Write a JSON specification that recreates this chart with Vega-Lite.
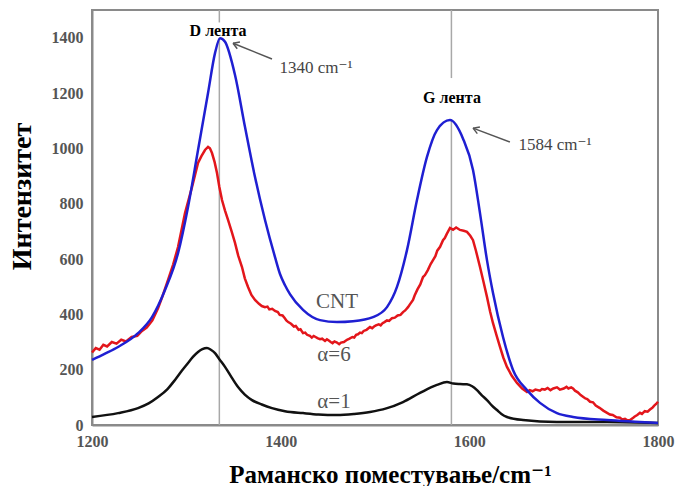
{
  "$schema": "https://vega.github.io/schema/vega-lite/v6.json",
  "width": 566,
  "height": 415,
  "autosize": "none",
  "padding": {"left": 92, "top": 10, "right": 20, "bottom": 61},
  "background": "white",
  "config": {
    "view": {"stroke": "#8a8a8a", "strokeWidth": 2},
    "font": "'Liberation Serif', 'DejaVu Serif', serif"
  },
  "datasets": {
    "cnt": [
      {"x": 1200, "y": 235}, {"x": 1213.8, "y": 258}, {"x": 1227.6, "y": 282}, {"x": 1248.8, "y": 332},
      {"x": 1263.6, "y": 390}, {"x": 1277.4, "y": 488}, {"x": 1291.2, "y": 621}, {"x": 1301.8, "y": 788},
      {"x": 1312.4, "y": 994}, {"x": 1323, "y": 1200}, {"x": 1330.4, "y": 1344}, {"x": 1335.7, "y": 1398},
      {"x": 1341, "y": 1385}, {"x": 1351.6, "y": 1265}, {"x": 1362.2, "y": 1077}, {"x": 1372.8, "y": 896},
      {"x": 1383.4, "y": 741}, {"x": 1394, "y": 607}, {"x": 1399.4, "y": 545}, {"x": 1404.6, "y": 505},
      {"x": 1410, "y": 472}, {"x": 1423.7, "y": 416}, {"x": 1441.7, "y": 379}, {"x": 1459.7, "y": 372},
      {"x": 1476.7, "y": 375}, {"x": 1497.9, "y": 390}, {"x": 1512.7, "y": 426}, {"x": 1523.3, "y": 499},
      {"x": 1533.9, "y": 632}, {"x": 1544.5, "y": 813}, {"x": 1555.1, "y": 969}, {"x": 1565.7, "y": 1066},
      {"x": 1579.5, "y": 1102}, {"x": 1593.3, "y": 1035}, {"x": 1603.9, "y": 922}, {"x": 1611.3, "y": 766},
      {"x": 1618.7, "y": 596}, {"x": 1625.1, "y": 477}, {"x": 1635.7, "y": 318}, {"x": 1646.3, "y": 199},
      {"x": 1661.1, "y": 126}, {"x": 1674.9, "y": 80}, {"x": 1692.9, "y": 43}, {"x": 1709.9, "y": 29},
      {"x": 1746, "y": 18}, {"x": 1780.9, "y": 11}, {"x": 1800, "y": 7}
    ],
    "a6": [
      {"x": 1200, "y": 262}, {"x": 1204, "y": 278}, {"x": 1208, "y": 272}, {"x": 1212, "y": 290},
      {"x": 1216, "y": 284}, {"x": 1221, "y": 300}, {"x": 1226, "y": 294}, {"x": 1231, "y": 308},
      {"x": 1236, "y": 302}, {"x": 1242, "y": 318}, {"x": 1248, "y": 322}, {"x": 1253, "y": 340},
      {"x": 1258, "y": 352}, {"x": 1264, "y": 378}, {"x": 1270, "y": 422}, {"x": 1275, "y": 468},
      {"x": 1280.6, "y": 524}, {"x": 1286, "y": 580}, {"x": 1291.2, "y": 643}, {"x": 1298.6, "y": 766},
      {"x": 1306, "y": 860}, {"x": 1312.4, "y": 947}, {"x": 1316, "y": 972}, {"x": 1319.8, "y": 994},
      {"x": 1323, "y": 1005}, {"x": 1325, "y": 1000}, {"x": 1327.2, "y": 983}, {"x": 1330, "y": 950},
      {"x": 1332.5, "y": 911}, {"x": 1335, "y": 860}, {"x": 1337.8, "y": 813}, {"x": 1341, "y": 775},
      {"x": 1344.2, "y": 741}, {"x": 1348, "y": 700}, {"x": 1351.6, "y": 658}, {"x": 1355, "y": 612},
      {"x": 1359, "y": 571}, {"x": 1362, "y": 530}, {"x": 1365.4, "y": 499}, {"x": 1369, "y": 470},
      {"x": 1372.8, "y": 452}, {"x": 1377, "y": 438}, {"x": 1380, "y": 430}, {"x": 1383.4, "y": 426},
      {"x": 1386, "y": 428}, {"x": 1388, "y": 418}, {"x": 1391, "y": 420}, {"x": 1394, "y": 412},
      {"x": 1397, "y": 408}, {"x": 1399, "y": 398}, {"x": 1402, "y": 396}, {"x": 1404.6, "y": 385},
      {"x": 1406, "y": 378}, {"x": 1408, "y": 372}, {"x": 1411, "y": 366}, {"x": 1414, "y": 356},
      {"x": 1416, "y": 358}, {"x": 1419, "y": 344}, {"x": 1421, "y": 346}, {"x": 1423.7, "y": 332},
      {"x": 1426, "y": 334}, {"x": 1428, "y": 326}, {"x": 1431, "y": 322}, {"x": 1433, "y": 316},
      {"x": 1435, "y": 322}, {"x": 1437, "y": 318}, {"x": 1439, "y": 314}, {"x": 1441.7, "y": 310},
      {"x": 1444, "y": 312}, {"x": 1447, "y": 304}, {"x": 1449, "y": 310}, {"x": 1451, "y": 305},
      {"x": 1453, "y": 300}, {"x": 1455, "y": 296}, {"x": 1457, "y": 302}, {"x": 1459.7, "y": 298},
      {"x": 1462, "y": 292}, {"x": 1464, "y": 298}, {"x": 1467, "y": 300}, {"x": 1470.3, "y": 308},
      {"x": 1473, "y": 312}, {"x": 1476, "y": 318}, {"x": 1478, "y": 316}, {"x": 1480, "y": 326},
      {"x": 1482, "y": 328}, {"x": 1484.1, "y": 334}, {"x": 1486, "y": 332}, {"x": 1488, "y": 340},
      {"x": 1491, "y": 344}, {"x": 1494.7, "y": 354}, {"x": 1497, "y": 350}, {"x": 1499, "y": 356},
      {"x": 1501, "y": 360}, {"x": 1504, "y": 364}, {"x": 1506, "y": 360}, {"x": 1508, "y": 368},
      {"x": 1510, "y": 372}, {"x": 1512.7, "y": 378}, {"x": 1515, "y": 376}, {"x": 1518, "y": 386},
      {"x": 1521, "y": 388}, {"x": 1524, "y": 396}, {"x": 1527, "y": 398}, {"x": 1529.7, "y": 408},
      {"x": 1532, "y": 414}, {"x": 1535, "y": 426}, {"x": 1537, "y": 436}, {"x": 1540.3, "y": 452},
      {"x": 1542, "y": 468}, {"x": 1545, "y": 490}, {"x": 1548, "y": 508}, {"x": 1550.9, "y": 535},
      {"x": 1553, "y": 542}, {"x": 1556, "y": 560}, {"x": 1559, "y": 582}, {"x": 1561.5, "y": 596},
      {"x": 1564, "y": 610}, {"x": 1566, "y": 630}, {"x": 1569, "y": 644}, {"x": 1572.1, "y": 668},
      {"x": 1574, "y": 676}, {"x": 1576, "y": 690}, {"x": 1579.5, "y": 712}, {"x": 1582.7, "y": 706},
      {"x": 1586, "y": 714}, {"x": 1590.1, "y": 705}, {"x": 1594, "y": 702}, {"x": 1597.5, "y": 698},
      {"x": 1601, "y": 684}, {"x": 1603.9, "y": 668}, {"x": 1607, "y": 630}, {"x": 1611.3, "y": 571},
      {"x": 1615, "y": 518}, {"x": 1618.7, "y": 463}, {"x": 1622, "y": 410}, {"x": 1625.1, "y": 368},
      {"x": 1629, "y": 322}, {"x": 1632.5, "y": 282}, {"x": 1636, "y": 244}, {"x": 1639.9, "y": 210},
      {"x": 1645, "y": 178}, {"x": 1650.5, "y": 152}, {"x": 1656, "y": 132}, {"x": 1661.1, "y": 119},
      {"x": 1664, "y": 126}, {"x": 1667, "y": 122}, {"x": 1670, "y": 128}, {"x": 1674.9, "y": 124},
      {"x": 1677, "y": 130}, {"x": 1680, "y": 128}, {"x": 1683, "y": 134}, {"x": 1686, "y": 126},
      {"x": 1689, "y": 132}, {"x": 1692.9, "y": 136}, {"x": 1696, "y": 128}, {"x": 1700, "y": 132},
      {"x": 1703, "y": 138}, {"x": 1705, "y": 132}, {"x": 1708, "y": 136}, {"x": 1709.9, "y": 132},
      {"x": 1712, "y": 124}, {"x": 1715, "y": 118}, {"x": 1718, "y": 108}, {"x": 1720.5, "y": 102},
      {"x": 1723, "y": 96}, {"x": 1725, "y": 94}, {"x": 1728, "y": 84}, {"x": 1731.1, "y": 82},
      {"x": 1734, "y": 70}, {"x": 1738, "y": 62}, {"x": 1742, "y": 52}, {"x": 1746, "y": 44},
      {"x": 1749, "y": 38}, {"x": 1752, "y": 36}, {"x": 1756, "y": 28}, {"x": 1759.7, "y": 26},
      {"x": 1762, "y": 20}, {"x": 1765, "y": 22}, {"x": 1768, "y": 16}, {"x": 1770.3, "y": 18},
      {"x": 1773, "y": 24}, {"x": 1775, "y": 30}, {"x": 1778, "y": 36}, {"x": 1780.9, "y": 44},
      {"x": 1783, "y": 40}, {"x": 1786, "y": 50}, {"x": 1789, "y": 48}, {"x": 1791.5, "y": 56},
      {"x": 1794, "y": 62}, {"x": 1796, "y": 70}, {"x": 1798, "y": 76}, {"x": 1800, "y": 84}
    ],
    "a1": [
      {"x": 1200, "y": 29}, {"x": 1227.6, "y": 43}, {"x": 1248.8, "y": 61}, {"x": 1260, "y": 78},
      {"x": 1270, "y": 101}, {"x": 1280, "y": 130}, {"x": 1288, "y": 163}, {"x": 1295, "y": 195},
      {"x": 1301.8, "y": 224}, {"x": 1307, "y": 246}, {"x": 1312.4, "y": 264}, {"x": 1317, "y": 274},
      {"x": 1321.9, "y": 278}, {"x": 1326, "y": 272}, {"x": 1330.4, "y": 260}, {"x": 1335, "y": 238},
      {"x": 1341, "y": 210}, {"x": 1348, "y": 172}, {"x": 1354.8, "y": 137}, {"x": 1362, "y": 110},
      {"x": 1369.6, "y": 90}, {"x": 1380, "y": 74}, {"x": 1390.8, "y": 61}, {"x": 1404.6, "y": 50},
      {"x": 1423.7, "y": 43}, {"x": 1440, "y": 38}, {"x": 1459.7, "y": 36}, {"x": 1478, "y": 40},
      {"x": 1494.7, "y": 47}, {"x": 1512, "y": 60}, {"x": 1529.7, "y": 83}, {"x": 1547.7, "y": 116},
      {"x": 1565.7, "y": 145}, {"x": 1576.3, "y": 155}, {"x": 1583, "y": 150}, {"x": 1590.1, "y": 148},
      {"x": 1597.5, "y": 147}, {"x": 1603, "y": 140}, {"x": 1608.1, "y": 126}, {"x": 1613, "y": 108},
      {"x": 1618.7, "y": 90}, {"x": 1624, "y": 70}, {"x": 1629.3, "y": 54}, {"x": 1634, "y": 40},
      {"x": 1639.9, "y": 29}, {"x": 1656.9, "y": 18}, {"x": 1692.9, "y": 11}, {"x": 1746, "y": 11},
      {"x": 1800, "y": 7}
    ]
  },
  "layer": [
    {
      "data": {"values": [
        {"x": 1335, "y0": 0, "y1": 1398}, {"x": 1335, "y0": 1455, "y1": 1500},
        {"x": 1581, "y0": 0, "y1": 1102}, {"x": 1581, "y0": 1254, "y1": 1500}
      ]},
      "mark": {"type": "rule", "color": "#a8a8a8", "strokeWidth": 1.5},
      "encoding": {
        "x": {"field": "x", "type": "quantitative", "scale": {"domain": [1200, 1800], "nice": false},
          "axis": {"values": [1200, 1400, 1600, 1800], "format": "d", "grid": false, "ticks": false, "domainColor": "#8a8a8a", "domainWidth": 2,
            "labelFont": "'Liberation Serif', 'DejaVu Serif', serif", "labelFontWeight": "bold", "labelFontSize": 16, "labelColor": "#555",
            "labelPadding": 8, "labelFlush": false,
            "title": "Раманско поместување/cm⁻¹", "titleFont": "'Liberation Serif', 'DejaVu Serif', serif", "titleFontWeight": "bold",
            "titleFontSize": 25, "titleColor": "#000", "titlePadding": 13, "titleX": 298}},
        "y": {"field": "y0", "type": "quantitative", "scale": {"domain": [0, 1500], "nice": false},
          "axis": {"values": [0, 200, 400, 600, 800, 1000, 1200, 1400], "format": "d", "grid": false, "ticks": false, "domainColor": "#8a8a8a", "domainWidth": 2,
            "labelFont": "'Liberation Serif', 'DejaVu Serif', serif", "labelFontWeight": "bold", "labelFontSize": 16, "labelColor": "#555",
            "labelPadding": 9,
            "title": "Интензитет", "titleFont": "'Liberation Serif', 'DejaVu Serif', serif", "titleFontWeight": "bold",
            "titleFontSize": 28, "titleColor": "#000", "titlePadding": 15, "titleY": 186}},
        "y2": {"field": "y1"}
      }
    },
    {
      "data": {"name": "a1"},
      "mark": {"type": "line", "color": "#111111", "strokeWidth": 2.5, "interpolate": "monotone"},
      "encoding": {"x": {"field": "x", "type": "quantitative"}, "y": {"field": "y", "type": "quantitative"}}
    },
    {
      "data": {"name": "a6"},
      "mark": {"type": "line", "color": "#e3161b", "strokeWidth": 2.5},
      "encoding": {"x": {"field": "x", "type": "quantitative"}, "y": {"field": "y", "type": "quantitative"}}
    },
    {
      "data": {"name": "cnt"},
      "mark": {"type": "line", "color": "#1f1fd2", "strokeWidth": 2.5, "interpolate": "monotone"},
      "encoding": {"x": {"field": "x", "type": "quantitative"}, "y": {"field": "y", "type": "quantitative"}}
    },
    {
      "data": {"values": [
        {"x1": 1390.8, "y1": 1323, "x2": 1349.5, "y2": 1380},
        {"x1": 1643, "y1": 1023, "x2": 1603.9, "y2": 1073}
      ]},
      "mark": {"type": "rule", "color": "#555", "strokeWidth": 1.5},
      "encoding": {
        "x": {"field": "x1", "type": "quantitative"}, "y": {"field": "y1", "type": "quantitative"},
        "x2": {"field": "x2"}, "y2": {"field": "y2"}
      }
    },
    {
      "data": {"values": [
        {"x": 1349.5, "y": 1380, "a": 22},
        {"x": 1603.9, "y": 1073, "a": 21}
      ]},
      "mark": {"type": "point", "shape": "M 0 0 L 2 -1.2 M 0 0 L 2 1.2", "size": 36, "filled": false, "color": "#555", "strokeWidth": 1.5, "opacity": 1},
      "encoding": {
        "x": {"field": "x", "type": "quantitative"}, "y": {"field": "y", "type": "quantitative"},
        "angle": {"field": "a", "type": "quantitative", "scale": null}
      }
    },
    {
      "data": {"values": [
        {"x": 1333.6, "y": 1424, "t": "D лента"},
        {"x": 1581.6, "y": 1182, "t": "G лента"}
      ]},
      "mark": {"type": "text", "font": "'Liberation Serif', 'DejaVu Serif', serif", "fontWeight": "bold", "fontSize": 16, "color": "#000", "align": "center", "baseline": "middle"},
      "encoding": {
        "x": {"field": "x", "type": "quantitative"}, "y": {"field": "y", "type": "quantitative"},
        "text": {"field": "t"}
      }
    },
    {
      "data": {"values": [
        {"x": 1437.5, "y": 1290, "t": "1340 cm⁻¹"},
        {"x": 1690.8, "y": 1012, "t": "1584 cm⁻¹"}
      ]},
      "mark": {"type": "text", "font": "'Liberation Serif', 'DejaVu Serif', serif", "fontSize": 17, "color": "#444", "align": "center", "baseline": "middle"},
      "encoding": {
        "x": {"field": "x", "type": "quantitative"}, "y": {"field": "y", "type": "quantitative"},
        "text": {"field": "t"}
      }
    },
    {
      "data": {"values": [
        {"x": 1459.7, "y": 445, "t": "CNT"},
        {"x": 1456.5, "y": 253, "t": "α=6"},
        {"x": 1456.5, "y": 83, "t": "α=1"}
      ]},
      "mark": {"type": "text", "font": "'Liberation Serif', 'DejaVu Serif', serif", "fontSize": 21, "color": "#555", "align": "center", "baseline": "middle"},
      "encoding": {
        "x": {"field": "x", "type": "quantitative"}, "y": {"field": "y", "type": "quantitative"},
        "text": {"field": "t"}
      }
    }
  ]
}
